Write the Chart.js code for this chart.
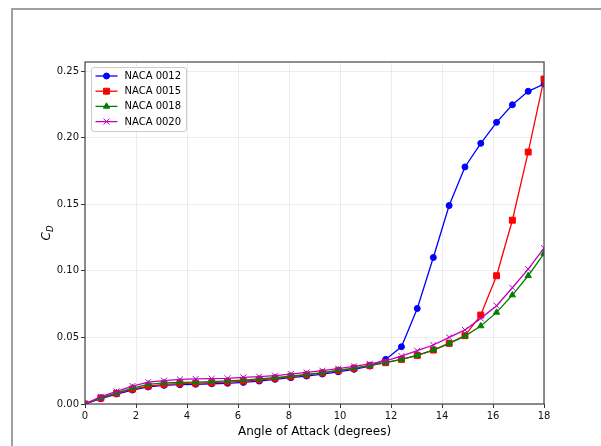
<!DOCTYPE html>
<html>
<head>
<meta charset="utf-8">
<script src="https://cdn.jsdelivr.net/npm/chart.js@4.4.1/dist/chart.umd.min.js"></script>
<style>
  html, body { margin: 0; padding: 0; background: #fff; }
  canvas { display: block; }
</style>
</head>
<body>
<canvas id="cdChart" width="601" height="446"></canvas>
<script>
// angle of attack (degrees) for every sample
const angles = [0, 0.62, 1.24, 1.86, 2.48, 3.10, 3.72, 4.34, 4.97, 5.59,
    6.21, 6.83, 7.45, 8.07, 8.69, 9.31, 9.93, 10.55, 11.17, 11.79,
    12.41, 13.03, 13.66, 14.28, 14.90, 15.52, 16.14, 16.76, 17.38, 18];

// drag coefficient
const cdNaca0012 = [0, 0.0040, 0.0075, 0.0105, 0.0128, 0.0140, 0.0145, 0.0148, 0.0152, 0.0155,
    0.0162, 0.0172, 0.0185, 0.0198, 0.0210, 0.0225, 0.0242, 0.0260, 0.0285, 0.0335,
    0.0430, 0.0717, 0.1100, 0.1490, 0.1780, 0.1957, 0.2115, 0.2247, 0.2348, 0.2402];
const cdNaca0015 = [0, 0.0045, 0.0080, 0.0112, 0.0135, 0.0148, 0.0153, 0.0156, 0.0160, 0.0165,
    0.0172, 0.0182, 0.0193, 0.0205, 0.0218, 0.0233, 0.0250, 0.0268, 0.0288, 0.0310,
    0.0335, 0.0365, 0.0405, 0.0455, 0.0513, 0.0668, 0.0963, 0.1380, 0.1892, 0.2440];
const cdNaca0018 = [0, 0.0047, 0.0083, 0.0120, 0.0148, 0.0158, 0.0163, 0.0165, 0.0168, 0.0173,
    0.0180, 0.0188, 0.0197, 0.0210, 0.0222, 0.0236, 0.0253, 0.0270, 0.0290, 0.0310,
    0.0335, 0.0365, 0.0405, 0.0455, 0.0510, 0.0586, 0.0688, 0.0818, 0.0963, 0.1130];
const cdNaca0020 = [0, 0.0055, 0.0095, 0.0135, 0.0165, 0.0175, 0.0185, 0.0188, 0.0190, 0.0193,
    0.0200, 0.0205, 0.0213, 0.0225, 0.0237, 0.0250, 0.0266, 0.0283, 0.0302, 0.0323,
    0.0360, 0.0400, 0.0443, 0.0500, 0.0556, 0.0643, 0.0738, 0.0873, 0.1013, 0.1170];

const seriesNames = ["NACA 0012", "NACA 0015", "NACA 0018", "NACA 0020"];
const xTicks = [0, 2, 4, 6, 8, 10, 12, 14, 16, 18];
const yTicks = [0, 0.05, 0.10, 0.15, 0.20, 0.25];

const FONT = "'DejaVu Sans', sans-serif";

const toPoints = (values) => angles.map((a, i) => ({ x: a, y: values[i] }));

const makeDataset = (label, values, color, style, radius, order) => ({
    label: label,
    data: toPoints(values),
    borderColor: color,
    backgroundColor: color,
    borderWidth: 1.3,
    pointStyle: style,
    pointRadius: radius,
    pointBorderWidth: 1,
    pointBackgroundColor: color,
    pointBorderColor: color,
    tension: 0,
    order: order,
});

// outer frame + white background
const framePlugin = {
    id: "frame",
    beforeDraw(chart) {
        const ctx = chart.ctx;
        ctx.save();
        ctx.fillStyle = "#fff";
        ctx.fillRect(0, 0, chart.width, chart.height);
        ctx.strokeStyle = "#a0a0a0";
        ctx.lineWidth = 2;
        ctx.beginPath();
        ctx.moveTo(12, chart.height);
        ctx.lineTo(12, 9);
        ctx.lineTo(chart.width, 9);
        ctx.stroke();
        ctx.restore();
    },
};

// box round the plot area, on top of the lines like matplotlib spines
const spinesPlugin = {
    id: "spines",
    afterDatasetsDraw(chart) {
        const { left, top, right, bottom } = chart.chartArea;
        const ctx = chart.ctx;
        ctx.save();
        ctx.strokeStyle = "#444";
        ctx.lineWidth = 1.2;
        ctx.strokeRect(left, top, right - left, bottom - top);
        ctx.restore();
    },
};

const legendPlugin = {
    id: "boxLegend",
    afterDraw(chart) {
        const ctx = chart.ctx;
        const area = chart.chartArea;
        const boxX = area.left + 6.5, boxY = area.top + 5.5;
        const boxW = 95, boxH = 64;
        ctx.save();
        ctx.beginPath();
        ctx.roundRect(boxX, boxY, boxW, boxH, 2.5);
        ctx.fillStyle = "rgba(255,255,255,0.85)";
        ctx.fill();
        ctx.strokeStyle = "#cccccc";
        ctx.lineWidth = 1;
        ctx.stroke();

        chart.data.datasets.forEach((ds, i) => {
            const y = boxY + 8.5 + i * 15.2;
            const x0 = boxX + 4, x1 = x0 + 22;
            ctx.strokeStyle = ds.borderColor;
            ctx.lineWidth = ds.borderWidth;
            ctx.beginPath();
            ctx.moveTo(x0, y);
            ctx.lineTo(x1, y);
            ctx.stroke();
            ctx.fillStyle = ds.pointBackgroundColor;
            ctx.strokeStyle = ds.pointBorderColor;
            ctx.lineWidth = ds.pointBorderWidth;
            Chart.helpers.drawPoint(ctx, {
                pointStyle: ds.pointStyle,
                radius: ds.pointRadius,
                borderWidth: ds.pointBorderWidth,
                rotation: 0,
            }, (x0 + x1) / 2, y);
            ctx.fillStyle = "#000";
            ctx.font = "10px " + FONT;
            ctx.textBaseline = "middle";
            ctx.textAlign = "left";
            ctx.fillText(ds.label, x1 + 7, y + 0.5);
        });
        ctx.restore();
    },
};

// y label C_D with italic C and subscript D
const yLabelPlugin = {
    id: "yLabel",
    afterDraw(chart) {
        const ctx = chart.ctx;
        const area = chart.chartArea;
        ctx.save();
        ctx.translate(50, (area.top + area.bottom) / 2);
        ctx.rotate(-Math.PI / 2);
        ctx.fillStyle = "#000";
        ctx.textBaseline = "alphabetic";
        ctx.textAlign = "left";
        ctx.font = "italic 12px " + FONT;
        const wC = ctx.measureText("C").width;
        ctx.font = "italic 8.5px " + FONT;
        const wD = ctx.measureText("D").width;
        const start = -(wC + wD) / 2;
        ctx.font = "italic 12px " + FONT;
        ctx.fillText("C", start, 0);
        ctx.font = "italic 8.5px " + FONT;
        ctx.fillText("D", start + wC, 2.5);
        ctx.restore();
    },
};

const ctx = document.getElementById("cdChart");

new Chart(ctx, {
    type: "line",
    data: {
        datasets: [
            makeDataset(seriesNames[0], cdNaca0012, "#0000ff", "circle", 3, 3),
            makeDataset(seriesNames[1], cdNaca0015, "#ff0000", "rect", 4.2, 2),
            makeDataset(seriesNames[2], cdNaca0018, "#008000", "triangle", 3.6, 1),
            makeDataset(seriesNames[3], cdNaca0020, "#bf00bf", "crossRot", 4.2, 0),
        ],
    },
    options: {
        responsive: false,
        animation: false,
        devicePixelRatio: 1,
        layout: { padding: { left: 0, top: 62, right: 57, bottom: 0 } },
        plugins: {
            legend: { display: false },
            tooltip: { enabled: false },
        },
        scales: {
            x: {
                type: "linear",
                min: 0,
                max: 18,
                afterFit: (scale) => { scale.height = 42; },
                afterBuildTicks: (scale) => { scale.ticks = xTicks.map((v) => ({ value: v })); },
                grid: { color: "rgba(0,0,0,0.07)", tickColor: "#333", tickLength: 4, lineWidth: 1 },
                border: { display: false },
                ticks: {
                    font: { family: FONT, size: 10 },
                    color: "#111",
                    padding: 2,
                    maxRotation: 0,
                    autoSkip: false,
                    callback: (v) => String(v),
                },
                title: {
                    display: true,
                    text: "Angle of Attack (degrees)",
                    font: { family: FONT, size: 12 },
                    color: "#000",
                    padding: { top: 2, bottom: 7.3 },
                },
            },
            y: {
                type: "linear",
                min: 0,
                max: 0.2568,
                afterFit: (scale) => { scale.width = 85; },
                afterBuildTicks: (scale) => { scale.ticks = yTicks.map((v) => ({ value: v })); },
                grid: { color: "rgba(0,0,0,0.07)", tickColor: "#333", tickLength: 4, lineWidth: 1 },
                border: { display: false },
                ticks: {
                    font: { family: FONT, size: 10 },
                    color: "#111",
                    padding: 2,
                    callback: (v) => v.toFixed(2),
                },
            },
        },
    },
    plugins: [framePlugin, spinesPlugin, legendPlugin, yLabelPlugin],
});
</script>
</body>
</html>
